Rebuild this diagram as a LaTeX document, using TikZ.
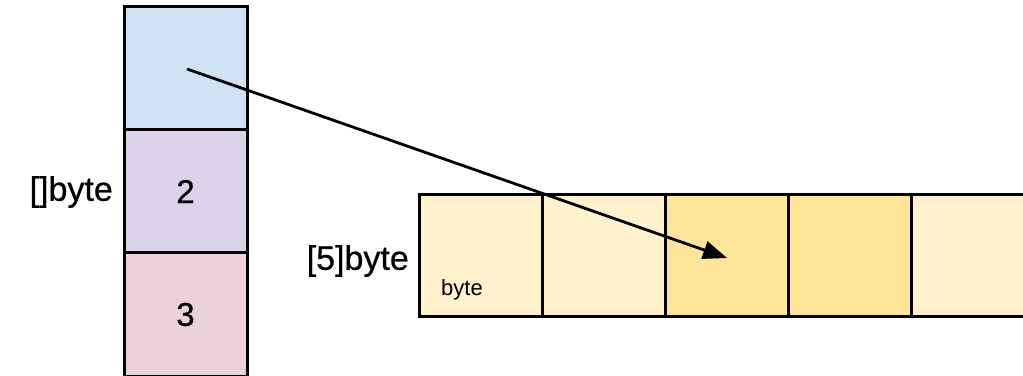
\documentclass[tikz,border=0pt]{standalone}
\usepackage{fontspec}
\setmainfont{Liberation Sans}
\newfontfamily\heavyfont[FakeBold=0.6]{Liberation Sans}
\usetikzlibrary{arrows.meta}
\definecolor{cblue}{HTML}{CFE2F3}
\definecolor{clav}{HTML}{D9D2E9}
\definecolor{cpink}{HTML}{EAD1DC}
\definecolor{cyel}{HTML}{FFF2CC}
\definecolor{cyeld}{HTML}{FFE599}
\begin{document}
\begin{tikzpicture}[x=1pt,y=1pt,
  vcell/.style={draw=black,line width=3pt,minimum width=123pt,minimum height=123pt,inner sep=0pt,font=\heavyfont\fontsize{33}{33}\selectfont},
  hcell/.style={draw=black,line width=3pt,minimum width=123pt,minimum height=122pt,inner sep=0pt},
  lbl/.style={font=\heavyfont\fontsize{34}{34}\selectfont,inner sep=0pt},
  ptr/.style={line width=2.8pt,-{Triangle[length=24pt,width=18pt]}}]
\useasboundingbox (0,0) rectangle (1023,375);
\clip (0,0) rectangle (1023,375);
\fill[white] (0,0) rectangle (1023,375);
% slice header column
\node[vcell,fill=cblue] (s1) at (185.5,306.5) {};
\node[vcell,fill=clav] (s2) at (185.5,183.5) {2};
\node[vcell,fill=cpink] (s3) at (185.5,60.5) {3};
\node[lbl,anchor=east] (l1) at (113,183) {[]byte};
% array
\node[hcell,fill=cyel] (a1) at (480.5,119) {};
\node[hcell,fill=cyel] (a2) at (603.5,119) {};
\node[hcell,fill=cyeld] (a3) at (726.5,119) {};
\node[hcell,fill=cyeld] (a4) at (849.5,119) {};
\node[hcell,fill=cyel] (a5) at (972.5,119) {};
\node[lbl,anchor=east] (l2) at (409,114) {[5]byte};
\node[font=\fontsize{22}{22}\selectfont,inner sep=0pt,anchor=base west] (bt) at (441,79) {byte};
\coordinate (p0) at (187,306);
\coordinate (p1) at (727,117);
\draw[ptr] (p0) -- (p1);
\end{tikzpicture}
\end{document}
